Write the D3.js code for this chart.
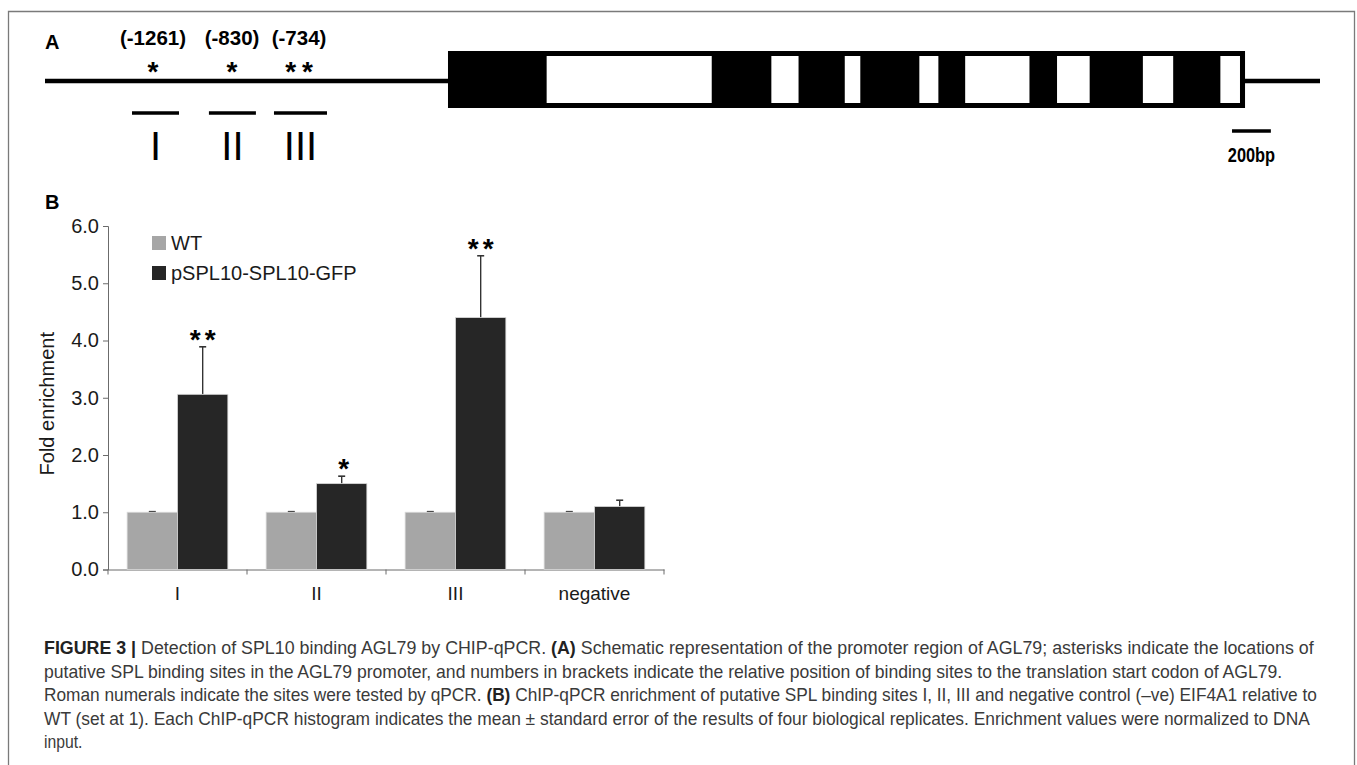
<!DOCTYPE html>
<html>
<head>
<meta charset="utf-8">
<script src="https://cdn.jsdelivr.net/npm/d3@7"></script>
<style>
  body { margin: 0; background: #fff; }
  svg { display: block; }
</style>
</head>
<body>
<div id="fig"></div>
<script>
// panel A: gene model, positions in bp (0 = start of the boxed gene)
const geneStart = 0;
const geneEnd = 4104;
const lineExtent = [-2075, 4490];
const introns = [[508, 1358], [1665, 1805], [2043, 2123], [2427, 2525], [2663, 2994], [3136, 3304], [3578, 3734], [3977, 4078]];
const siteLabels = ['(-1261)', '(-830)', '(-734)'];
const siteStars = ['*', '*', '**'];
const sitePos = [-1519, -1112, -767];
const ampliconNames = ['I', 'II', 'III'];
const amplicons = [[-1627, -1385], [-1231, -989], [-896, -623]];
const scaleBar = [4037, 4237];

// panel B: ChIP-qPCR fold enrichment
const categories = ['I', 'II', 'III', 'negative'];
const seriesNames = ['WT', 'pSPL10-SPL10-GFP'];
const wtMean = [1.0, 1.0, 1.0, 1.0];
const wtErr = [0.01, 0.01, 0.01, 0.01];
const gfpMean = [3.06, 1.50, 4.40, 1.10];
const gfpErr = [0.83, 0.13, 1.08, 0.11];
const stars = ['**', '*', '**', ''];
const yTicks = [0, 1, 2, 3, 4, 5, 6];

const captionLines = [
  [['FIGURE 3 | ', true], ['Detection of SPL10 binding AGL79 by CHIP-qPCR. ', false], ['(A)', true], [' Schematic representation of the promoter region of AGL79; asterisks indicate the locations of', false]],
  [['putative SPL binding sites in the AGL79 promoter, and numbers in brackets indicate the relative position of binding sites to the translation start codon of AGL79.', false]],
  [['Roman numerals indicate the sites were tested by qPCR. ', false], ['(B)', true], [' ChIP-qPCR enrichment of putative SPL binding sites I, II, III and negative control (\u2013ve) EIF4A1 relative to', false]],
  [['WT (set at 1). Each ChIP-qPCR histogram indicates the mean \u00b1 standard error of the results of four biological replicates. Enrichment values were normalized to DNA', false]],
  [['input.', false]]
];
const captionRight = [1314, 1283, 1318, 1310, null];

const COLOR_WT = '#a6a6a6';
const COLOR_GFP = '#262626';
const FONT = 'Liberation Sans, Arial, Helvetica, sans-serif';

const W = 1357, H = 765;
const svg = d3.select('#fig').append('svg')
  .attr('width', W).attr('height', H)
  .style('font-family', FONT);

// frame
svg.append('path')
  .attr('d', `M8.5,${H}V11.5H1354.5V${H}`)
  .attr('fill', 'none').attr('stroke', '#7a7a7a').attr('stroke-width', 1.3);

// ---------- panel A ----------
const gA = svg.append('g');
const xg = d3.scaleLinear().domain(lineExtent).range([45, 1320]);
const lineY = 81;

gA.append('text').attr('x', 45).attr('y', 49)
  .attr('font-size', 20).attr('font-weight', 'bold').text('A');

gA.append('line')
  .attr('x1', xg(lineExtent[0])).attr('x2', xg(lineExtent[1]))
  .attr('y1', lineY).attr('y2', lineY)
  .attr('stroke', '#000').attr('stroke-width', 4.5);

gA.append('rect')
  .attr('x', xg(geneStart)).attr('y', 51)
  .attr('width', xg(geneEnd) - xg(geneStart)).attr('height', 57)
  .attr('fill', '#000');

gA.selectAll('.intron').data(introns).enter().append('rect')
  .attr('class', 'intron')
  .attr('x', d => xg(d[0])).attr('y', 56)
  .attr('width', d => xg(d[1]) - xg(d[0])).attr('height', 47)
  .attr('fill', '#fff');

gA.selectAll('.site-label').data(siteLabels).enter().append('text')
  .attr('class', 'site-label')
  .attr('x', (d, i) => xg(sitePos[i])).attr('y', 45)
  .attr('text-anchor', 'middle').attr('font-size', 20.5).attr('font-weight', 'bold')
  .text(d => d);

gA.selectAll('.site-star').data(siteStars).enter().append('text')
  .attr('class', 'site-star')
  .attr('x', (d, i) => xg(sitePos[i]) + (d.length > 1 ? 3 : 0)).attr('y', 81)
  .attr('text-anchor', 'middle').attr('font-size', 28).attr('font-weight', 'bold')
  .attr('letter-spacing', d => d.length > 1 ? 6 : 0)
  .text(d => d);

gA.selectAll('.amplicon').data(amplicons).enter().append('line')
  .attr('class', 'amplicon')
  .attr('x1', d => xg(d[0])).attr('x2', d => xg(d[1]))
  .attr('y1', 113).attr('y2', 113)
  .attr('stroke', '#000').attr('stroke-width', 3.5);

gA.selectAll('.amp-name').data(ampliconNames).enter().append('text')
  .attr('class', 'amp-name')
  .attr('x', (d, i) => xg((amplicons[i][0] + amplicons[i][1]) / 2)).attr('y', 160)
  .attr('text-anchor', 'middle').attr('font-size', 40)
  .text(d => d);

gA.append('line')
  .attr('x1', xg(scaleBar[0])).attr('x2', xg(scaleBar[1]))
  .attr('y1', 131).attr('y2', 131)
  .attr('stroke', '#000').attr('stroke-width', 3.5);
gA.append('text')
  .attr('transform', `translate(${xg((scaleBar[0] + scaleBar[1]) / 2)},162) scale(0.82,1)`)
  .attr('text-anchor', 'middle').attr('font-size', 20).attr('font-weight', 'bold')
  .text('200bp');

// ---------- panel B ----------
svg.append('text').attr('x', 45).attr('y', 209)
  .attr('font-size', 20).attr('font-weight', 'bold').text('B');

const m = { left: 108, top: 226, right: 664, bottom: 569.5 };
const gB = svg.append('g');

const x = d3.scaleBand().domain(categories).range([m.left, m.right]).paddingInner(0).paddingOuter(0);
const xs = d3.scaleBand().domain(seriesNames).range([0, x.bandwidth()]).paddingOuter(0.38).paddingInner(0);
const y = d3.scaleLinear().domain([0, 6]).range([m.bottom, m.top]);

const yAxis = d3.axisLeft(y).tickValues(yTicks).tickFormat(d3.format('.1f')).tickSize(5).tickPadding(4);
const gy = gB.append('g').attr('transform', `translate(${m.left},0)`).call(yAxis);
gy.select('.domain').attr('stroke', '#6b6b6b');
gy.selectAll('.tick line').attr('stroke', '#6b6b6b');
gy.selectAll('.tick text').attr('font-size', 20).attr('fill', '#1a1a1a').attr('font-family', FONT);

const xAxis = d3.axisBottom(x).tickSize(0).tickPadding(17);
const gx = gB.append('g').attr('transform', `translate(0,${m.bottom})`).call(xAxis);
gx.select('.domain').attr('stroke', '#6b6b6b');
gx.selectAll('.tick text').attr('font-size', 19).attr('fill', '#1a1a1a').attr('font-family', FONT);
gx.selectAll('.bound').data(d3.range(categories.length + 1)).enter().append('line')
  .attr('class', 'bound')
  .attr('x1', i => m.left + i * x.step()).attr('x2', i => m.left + i * x.step())
  .attr('y1', 0).attr('y2', 5)
  .attr('stroke', '#6b6b6b');

const rows = categories.map((c, i) => ({
  cat: c,
  series: [
    { name: seriesNames[0], mean: wtMean[i], err: wtErr[i], color: COLOR_WT },
    { name: seriesNames[1], mean: gfpMean[i], err: gfpErr[i], color: COLOR_GFP }
  ],
  star: stars[i]
}));

const grp = gB.selectAll('.grp').data(rows).enter().append('g')
  .attr('class', 'grp')
  .attr('transform', d => `translate(${x(d.cat)},0)`);

const bars = grp.selectAll('.bar').data(d => d.series).enter();

bars.append('line')
  .attr('x1', d => xs(d.name) + xs.bandwidth() / 2).attr('x2', d => xs(d.name) + xs.bandwidth() / 2)
  .attr('y1', d => y(d.mean)).attr('y2', d => y(d.mean + d.err))
  .attr('stroke', '#333').attr('stroke-width', 1.4);
bars.append('line')
  .attr('x1', d => xs(d.name) + xs.bandwidth() / 2 - 3.5).attr('x2', d => xs(d.name) + xs.bandwidth() / 2 + 3.5)
  .attr('y1', d => y(d.mean + d.err)).attr('y2', d => y(d.mean + d.err))
  .attr('stroke', '#333').attr('stroke-width', 1.6);
bars.append('rect')
  .attr('class', 'bar')
  .attr('x', d => xs(d.name)).attr('y', d => y(d.mean))
  .attr('width', xs.bandwidth()).attr('height', d => y(0) - y(d.mean))
  .attr('fill', d => d.color)
  .attr('stroke', '#d8d8d8').attr('stroke-width', 0.8);

grp.append('text')
  .attr('x', xs(seriesNames[1]) + xs.bandwidth() / 2 + 2)
  .attr('y', d => y(d.series[1].mean + d.series[1].err) + 2)
  .attr('text-anchor', 'middle').attr('font-size', 28).attr('font-weight', 'bold')
  .attr('letter-spacing', d => d.star.length > 1 ? 4 : 0)
  .text(d => d.star);

// legend
const leg = gB.selectAll('.leg').data(seriesNames).enter().append('g')
  .attr('class', 'leg')
  .attr('transform', (d, i) => `translate(152,${236 + i * 30})`);
leg.append('rect').attr('width', 14).attr('height', 14)
  .attr('fill', (d, i) => i === 0 ? COLOR_WT : COLOR_GFP);
leg.append('text').attr('x', 19).attr('y', 14)
  .attr('font-size', 20).attr('fill', '#1a1a1a').text(d => d);

// y label
gB.append('text')
  .attr('transform', `translate(54,${(m.top + m.bottom) / 2 + 6}) rotate(-90)`)
  .attr('text-anchor', 'middle').attr('font-size', 20).attr('fill', '#1a1a1a')
  .text('Fold enrichment');

// ---------- caption ----------
const cap = svg.append('g');
captionLines.forEach((parts, i) => {
  const t = cap.append('text')
    .attr('font-size', 17.5)
    .attr('fill', '#3a3a3a');
  parts.forEach(p => {
    t.append('tspan').attr('font-weight', p[1] ? 'bold' : 'normal')
      .attr('fill', p[1] ? '#222' : '#3a3a3a').text(p[0]);
  });
  const baseY = 654 + i * 23.5;
  const w = t.node().getComputedTextLength();
  const k = captionRight[i] ? (captionRight[i] - 44) / w : 0.9;
  t.attr('transform', `translate(44,${baseY}) scale(${k},1)`);
});
</script>
</body>
</html>
